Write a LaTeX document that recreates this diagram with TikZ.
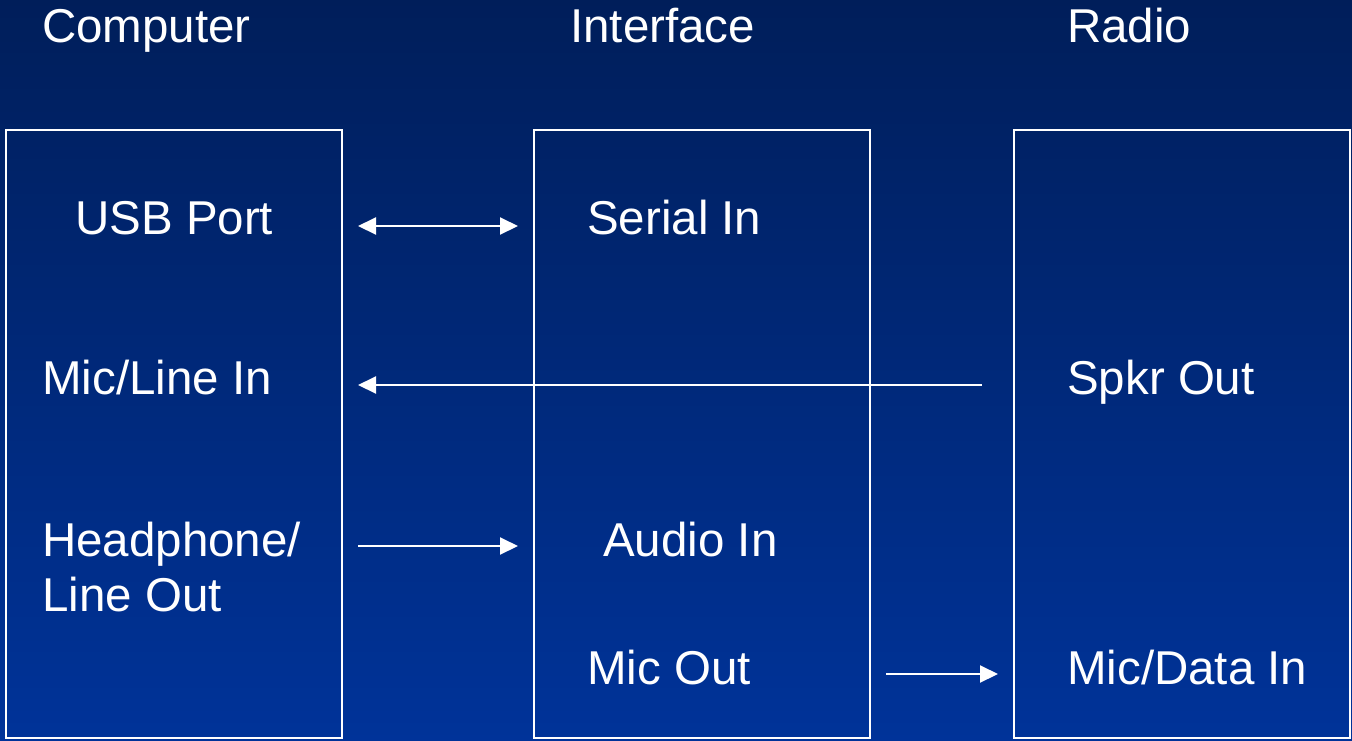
\documentclass[tikz,border=0pt]{standalone}
\usepackage{fontspec}
\setmainfont{Liberation Sans}
\usepackage{tikz}
\usetikzlibrary{arrows.meta}

\definecolor{bgtop}{RGB}{0,30,90}
\definecolor{bgbottom}{RGB}{0,51,153}

\tikzset{
  box/.style={draw=white, line width=2pt, rectangle, inner sep=0pt,
    minimum width=336pt, minimum height=608pt},
  label/.style={text=white, inner sep=0pt, anchor=base west,
    font=\fontsize{47.5}{55}\selectfont},
  link/.style={draw=white, line width=2pt}
}

\begin{document}
\begin{tikzpicture}[x=1pt,y=-1pt,>={Triangle[length=18pt,width=17pt]}]

      \shade[top color=bgtop, bottom color=bgbottom] (0,0) rectangle (1352,740);
      \useasboundingbox (0,0) rectangle (1352,740);

      % the three units
      \node[box] (computer) at (174,434) {};
      \node[box] (interface) at (702,434) {};
      \node[box] (radio) at (1182,434) {};

      \node[label] (computertitle) at (42,42) {Computer};
      \node[label] (interfacetitle) at (570,42) {Interface};
      \node[label] (radiotitle) at (1067,42) {Radio};

      % ports
      \node[label] (usb) at (75,234) {USB Port};
      \node[label] (micline) at (42,394) {Mic/Line In};
      \node[label, align=left] (headphone) at (42,611) {Headphone/\\Line Out};
      \node[label] (serial) at (587,234) {Serial In};
      \node[label] (audio) at (603,556) {Audio In};
      \node[label] (micout) at (587,684) {Mic Out};
      \node[label] (spkr) at (1067,394) {Spkr Out};
      \node[label] (micdata) at (1067,684) {Mic/Data In};

      \coordinate (usbend) at (358,226);
      \coordinate (serialend) at (518,226);
      \coordinate (spkrend) at (982,385);
      \coordinate (micend) at (358,385);
      \coordinate (phoneend) at (358,546);
      \coordinate (audioend) at (518,546);
      \coordinate (micoutend) at (886,674);
      \coordinate (micdataend) at (998,674);

      \draw[link,<->] (usbend) -- (serialend);
      \draw[link,->] (spkrend) -- (micend);
      \draw[link,->] (phoneend) -- (audioend);
      \draw[link,->] (micoutend) -- (micdataend);

\end{tikzpicture}
\end{document}
